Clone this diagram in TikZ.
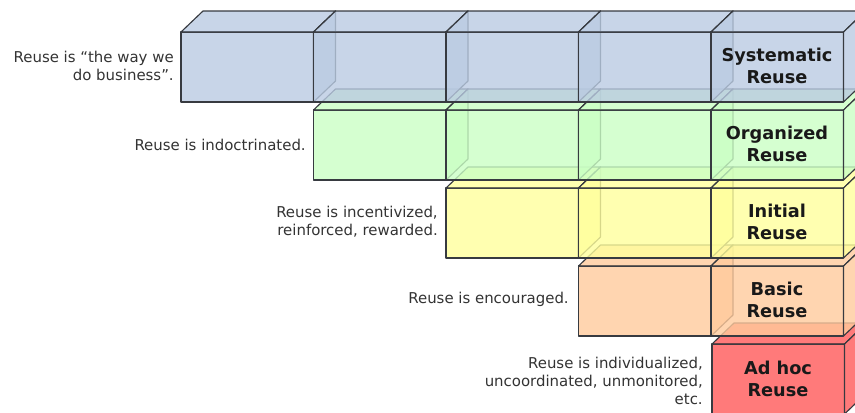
\documentclass[tikz,border=0pt]{standalone}
\usepackage{fontspec}
\setmainfont{DejaVu Sans}
\definecolor{cblue}{RGB}{186,203,226}
\definecolor{cgreen}{RGB}{202,255,196}
\definecolor{cyellow}{RGB}{255,255,156}
\definecolor{corange}{RGB}{255,202,156}
\definecolor{cred}{RGB}{255,89,89}
\definecolor{edge}{RGB}{55,58,64}
\definecolor{txt}{RGB}{51,51,51}
\tikzset{
  face/.style={draw=edge, line width=0.85pt, fill opacity=0.8, line join=round},
  levellabel/.style={align=center, font=\bfseries\fontsize{13.3}{16}\selectfont, text=black!90, inner sep=0pt},
  desc/.style={anchor=east, align=right, font=\fontsize{11.2}{13.5}\selectfont, text=txt, inner sep=0pt}
}
\newcommand\reusecube[3]{%
  \begin{scope}[shift={(#1,#2)}]
    \filldraw[face,fill=#3] (0,0) rectangle (132.5,70);
    \filldraw[face,fill=#3] (0,0) -- (22,-21) -- (154.5,-21) -- (132.5,0) -- cycle;
    \filldraw[face,fill=#3] (132.5,0) -- (154.5,-21) -- (154.5,49) -- (132.5,70) -- cycle;
  \end{scope}}
\begin{document}
\begin{tikzpicture}[x=0.75pt,y=-0.75pt]
  \useasboundingbox (0,0) rectangle (855,412);
  \clip (0,0) rectangle (855,412);
  % red row
  \reusecube{712}{344}{cred}
  % orange row
  \foreach \c in {578.5,711} {\reusecube{\c}{266}{corange}}
  % yellow row
  \foreach \c in {446,578.5,711} {\reusecube{\c}{188}{cyellow}}
  % green row
  \foreach \c in {313.5,446,578.5,711} {\reusecube{\c}{110}{cgreen}}
  % blue row
  \foreach \c in {181,313.5,446,578.5,711} {\reusecube{\c}{32}{cblue}}
  % level labels
  \node[levellabel] (sys) at (777,66) {Systematic\\Reuse};
  \node[levellabel] (org) at (777,144) {Organized\\Reuse};
  \node[levellabel] (ini) at (777,222) {Initial\\Reuse};
  \node[levellabel] (bas) at (777,300) {Basic\\Reuse};
  \node[levellabel] (adh) at (778,379) {Ad hoc\\Reuse};
  % descriptions
  \node[desc] (dsys) at (174,66) {Reuse is “the way we\\do business”.};
  \node[desc] (dorg) at (306,145) {Reuse is indoctrinated.};
  \node[desc] (dini) at (438,222) {Reuse is incentivized,\\reinforced, rewarded.};
  \node[desc] (dbas) at (569,299) {Reuse is encouraged.};
  \node[desc] (dadh) at (703,381) {Reuse is individualized,\\uncoordinated, unmonitored,\\etc.};
\end{tikzpicture}
\end{document}
